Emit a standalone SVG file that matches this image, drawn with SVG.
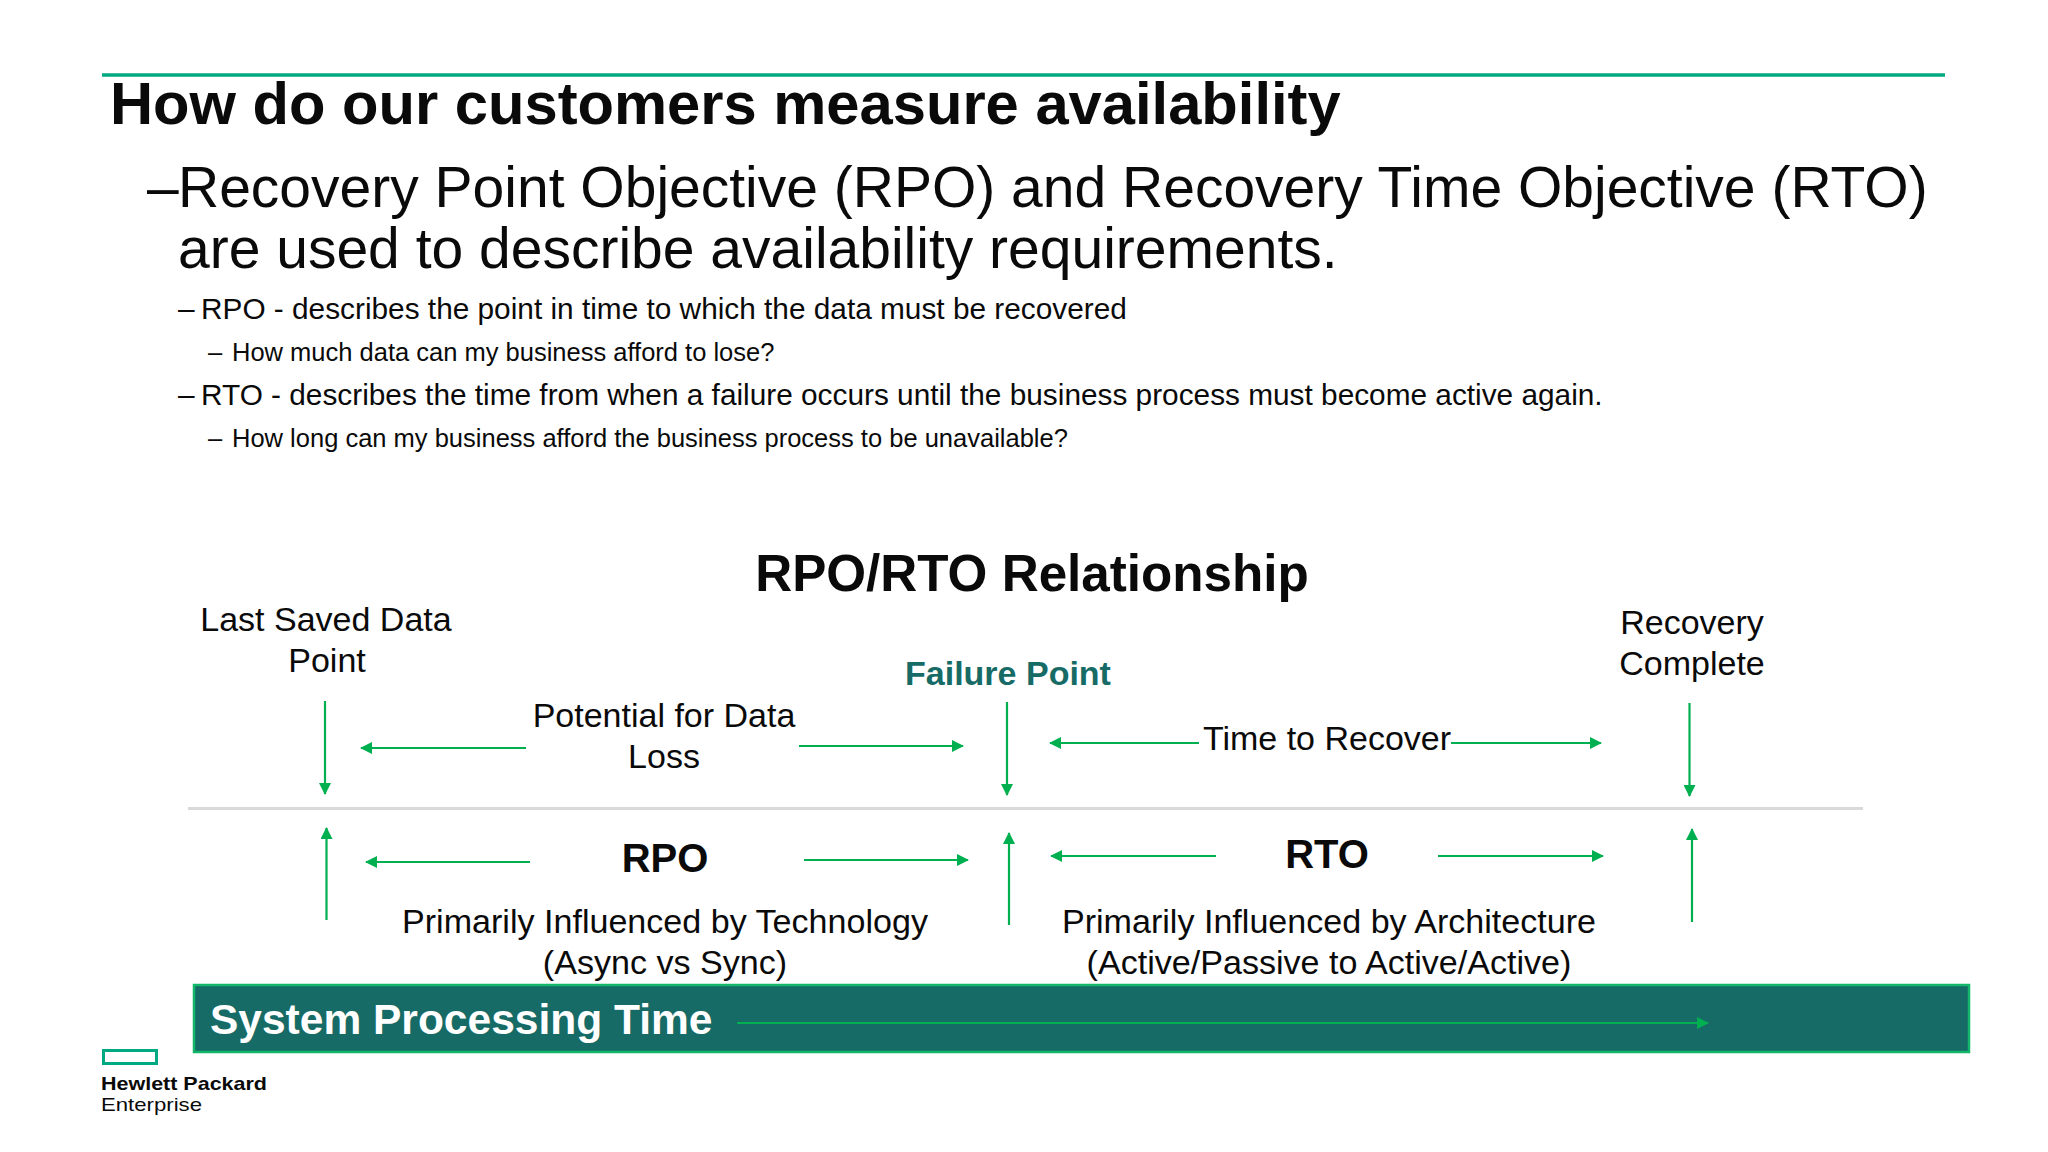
<svg xmlns="http://www.w3.org/2000/svg" width="2048" height="1152" viewBox="0 0 2048 1152">
<style>
text{font-family:"Liberation Sans",Arial,sans-serif;fill:#0a0a0a}
.b{font-weight:700}
.m{text-anchor:middle}
.t{font-size:34px}
.c{fill:none;stroke:#00b050;stroke-width:2.2}
.f{fill:#00b050}
</style>
<defs>
<marker id="a" markerUnits="userSpaceOnUse" viewBox="0 0 12 12" markerWidth="12" markerHeight="12" refX="11" refY="6" orient="auto"><path d="M0 0L12 6L0 12Z" class="f"/></marker>
</defs>
<rect width="2048" height="1152" fill="#fff"/>
<g id="header">
<line x1="102" y1="75" x2="1945" y2="75" stroke="#01a982" stroke-width="3.5"/>
<text id="title" class="b" x="110" y="124" font-size="59.700">How do our customers measure availability</text>
<text x="147" y="207" font-size="57">–</text>
<text x="178" y="207" font-size="57">Recovery Point Objective (RPO) and Recovery Time Objective (RTO)</text>
<text x="178" y="268" font-size="57">are used to describe availability requirements.</text>
<text x="178" y="319" font-size="29.800">–</text>
<text x="201" y="319" font-size="29.800">RPO - describes the point in time to which the data must be recovered</text>
<text x="208" y="361" font-size="25.500">–</text>
<text x="232" y="361" font-size="25.500">How much data can my business afford to lose?</text>
<text x="178" y="405" font-size="29.800">–</text>
<text x="201" y="405" font-size="29.800">RTO - describes the time from when a failure occurs until the business process must become active again.</text>
<text x="208" y="447" font-size="25.500">–</text>
<text x="232" y="447" font-size="25.500">How long can my business afford the business process to be unavailable?</text>
</g>
<g id="heading"><text class="b m" x="1032" y="591" font-size="51.200">RPO/RTO Relationship</text></g>
<g id="last-saved"><text class="m t" x="326" y="631">Last Saved Data</text><text class="m t" x="327" y="672">Point</text></g>
<g id="failure-point"><text class="b m" x="1008" y="685" font-size="34" style="fill:#176b66">Failure Point</text></g>
<g id="recovery-complete"><text class="m t" x="1692" y="634">Recovery</text><text class="m t" x="1692" y="675">Complete</text></g>
<g id="potential-loss"><text class="m t" x="664" y="727">Potential for Data</text><text class="m t" x="664" y="768">Loss</text></g>
<g id="time-to-recover"><text class="m t" x="1327" y="750">Time to Recover</text></g>
<g id="rpo"><text class="b m" x="665" y="872" font-size="40">RPO</text>
<text class="m" x="665" y="933" font-size="34.100">Primarily Influenced by Technology</text><text class="m" x="665" y="974" font-size="34.100">(Async vs Sync)</text></g>
<g id="rto"><text class="b m" x="1327" y="868" font-size="40">RTO</text>
<text class="m" x="1329" y="933" font-size="34.100">Primarily Influenced by Architecture</text><text class="m" x="1329" y="974" font-size="34.100">(Active/Passive to Active/Active)</text></g>
<g id="system-bar">
<rect x="194" y="985" width="1775" height="67" fill="#176b66" stroke="#12b76a" stroke-width="2.5"/>
<text class="b" x="210" y="1034" font-size="42.500" style="fill:#fff">System Processing Time</text>
</g>
<g id="connectors">
<line x1="188" y1="808.5" x2="1863" y2="808.5" stroke="#d9d9d9" stroke-width="3"/>
<g class="c">
<line x1="325" y1="701" x2="325" y2="794" marker-end="url(#a)"/>
<line x1="1007" y1="702" x2="1007" y2="795" marker-end="url(#a)"/>
<line x1="1689.500" y1="703" x2="1689.500" y2="796" marker-end="url(#a)"/>
<line x1="326.5" y1="920" x2="326.5" y2="828" marker-end="url(#a)"/>
<line x1="1009" y1="925" x2="1009" y2="833" marker-end="url(#a)"/>
<line x1="1692" y1="922" x2="1692" y2="829" marker-end="url(#a)"/>
<line x1="526" y1="748" x2="361" y2="748" marker-end="url(#a)"/>
<line x1="799" y1="746" x2="963" y2="746" marker-end="url(#a)"/>
<line x1="530" y1="862" x2="366" y2="862" marker-end="url(#a)"/>
<line x1="804" y1="860" x2="968" y2="860" marker-end="url(#a)"/>
<line x1="1199" y1="743" x2="1050" y2="743" marker-end="url(#a)"/>
<line x1="1451" y1="743" x2="1601" y2="743" marker-end="url(#a)"/>
<line x1="1216" y1="856" x2="1051" y2="856" marker-end="url(#a)"/>
<line x1="1438" y1="856" x2="1603" y2="856" marker-end="url(#a)"/>
<line x1="737" y1="1023" x2="1708" y2="1023" marker-end="url(#a)"/>
</g>
</g>
<g id="logo">
<rect x="103.500" y="1050.500" width="53" height="13" fill="none" stroke="#01a982" stroke-width="3"/>
<text class="b" x="101" y="1089.500" font-size="19" textLength="166" lengthAdjust="spacingAndGlyphs">Hewlett Packard</text>
<text x="101" y="1111" font-size="19" textLength="101" lengthAdjust="spacingAndGlyphs">Enterprise</text>
</g>
</svg>
